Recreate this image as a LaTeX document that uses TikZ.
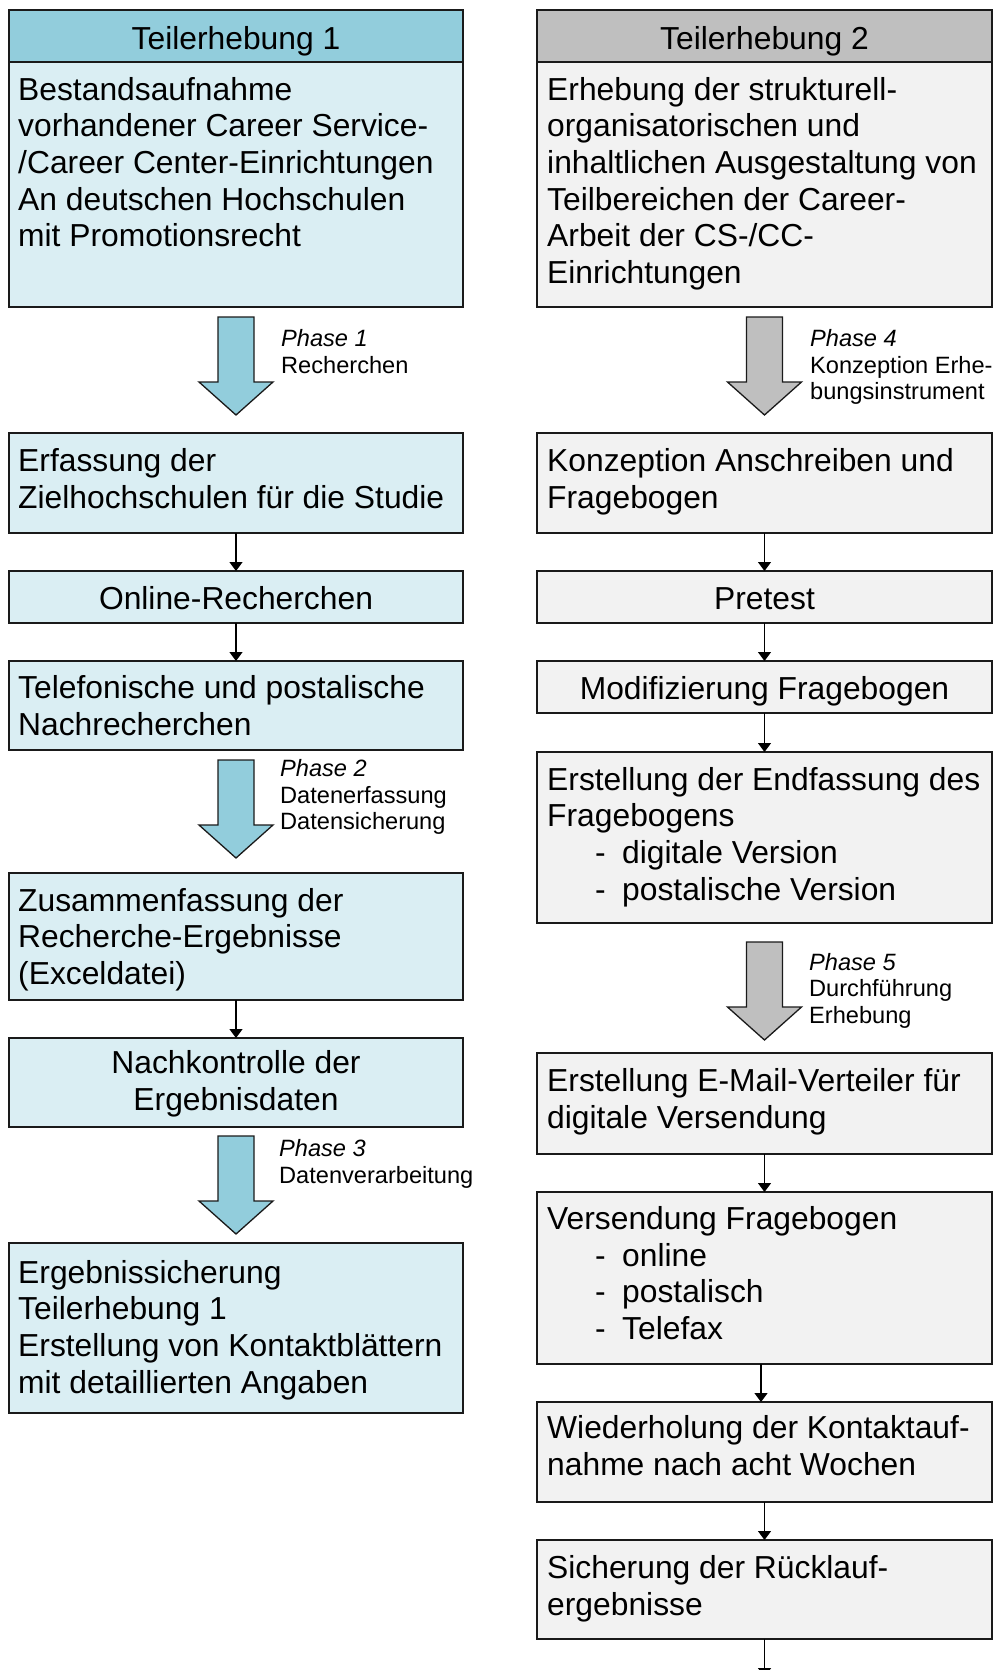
\documentclass[tikz,border=0pt]{standalone}
\usepackage{fontspec}
\setmainfont{Liberation Sans}
\usetikzlibrary{arrows.meta}
\definecolor{blueH}{HTML}{92CDDC}
\definecolor{blueB}{HTML}{DAEEF3}
\definecolor{grayH}{HTML}{BFBFBF}
\definecolor{grayB}{HTML}{F2F2F2}
\definecolor{edgec}{HTML}{1A1A1A}
\newcommand{\txtmain}{\fontsize{31.8}{36.7}\selectfont}
\newcommand{\txtphase}{\fontsize{23.6}{26.5}\selectfont}
\newcommand{\bul}{\makebox[75pt][l]{\hspace*{48pt}-}}
\tikzset{
  boxbase/.style={draw=edgec, line width=1.5pt, inner sep=0pt, outer sep=0pt, anchor=north west},
  boxL/.style={boxbase, fill=blueB, minimum width=454pt, minimum height=#1},
  boxR/.style={boxbase, fill=grayB, minimum width=455pt, minimum height=#1},
  txtl/.style={inner sep=0pt, anchor=base west, font=\txtmain},
  txtc/.style={inner sep=0pt, anchor=base, font=\txtmain},
  ptxt/.style={inner sep=0pt, anchor=base west, font=\txtphase},
  conn/.style={draw=black, line width=1.3pt, -{Triangle[width=13pt,length=9pt]}},
  pics/bigarrow/.style={code={
    \draw[line width=1.3pt, draw=edgec, fill=#1]
      (-18,0) -- (18,0) -- (18,65) -- (37,65) -- (0,98) -- (-37,65) -- (-18,65) -- cycle;}}
}
\begin{document}
\begin{tikzpicture}[x=1pt,y=-1pt]
\useasboundingbox (0,0) rectangle (995,1670);
\clip (0,0) rectangle (995,1670);

% ---------------- left column ----------------
\node[boxL=52pt, fill=blueH] (hL1) at (9,10) {};
\node[boxL=245pt] (bL1) at (9,62) {};
\node[boxL=100pt] (bL2) at (9,433) {};
\node[boxL=52pt]  (bL3) at (9,571) {};
\node[boxL=89pt]  (bL4) at (9,661) {};
\node[boxL=127pt] (bL5) at (9,873) {};
\node[boxL=89pt]  (bL6) at (9,1038) {};
\node[boxL=170pt] (bL7) at (9,1243) {};

\node[txtc] (thL1) at (236,49) {Teilerhebung 1};
\node[txtl] (tL1) at (18,100) {\begin{tabular}[t]{@{}l@{}}Bestandsaufnahme\\vorhandener Career Service-\\/Career Center-Einrichtungen\\An deutschen Hochschulen\\mit Promotionsrecht\end{tabular}};
\node[txtl] (tL2) at (18,471.7) {\begin{tabular}[t]{@{}l@{}}Erfassung der\\Zielhochschulen für die Studie\end{tabular}};
\node[txtc] (tL3) at (236,609.3) {Online-Recherchen};
\node[txtl] (tL4) at (18,698.3) {\begin{tabular}[t]{@{}l@{}}Telefonische und postalische\\Nachrecherchen\end{tabular}};
\node[txtl] (tL5) at (18,911) {\begin{tabular}[t]{@{}l@{}}Zusammenfassung der\\Recherche-Ergebnisse\\(Exceldatei)\end{tabular}};
\node[txtc] (tL6) at (236,1073.3) {\begin{tabular}[t]{@{}c@{}}Nachkontrolle der\\Ergebnisdaten\end{tabular}};
\node[txtl] (tL7) at (18,1283) {\begin{tabular}[t]{@{}l@{}}Ergebnissicherung\\Teilerhebung 1\\Erstellung von Kontaktblättern\\mit detaillierten Angaben\end{tabular}};

\draw[conn] (bL2.south) -- (bL3.north);
\draw[conn] (bL3.south) -- (bL4.north);
\draw[conn] (bL5.south) -- (bL6.north);

\pic at ([yshift=-10pt]bL1.south) {bigarrow=blueH};
\pic at ([yshift=-10pt]bL4.south) {bigarrow=blueH};
\pic at ([yshift=-9pt]bL6.south) {bigarrow=blueH};

\node[ptxt] (ph1) at (281,346.7) {\begin{tabular}[t]{@{}l@{}}\textit{Phase 1}\\Recherchen\end{tabular}};
\node[ptxt] (ph2) at (280,776.7) {\begin{tabular}[t]{@{}l@{}}\textit{Phase 2}\\Datenerfassung\\Datensicherung\end{tabular}};
\node[ptxt] (ph3) at (279,1156.7) {\begin{tabular}[t]{@{}l@{}}\textit{Phase 3}\\Datenverarbeitung\end{tabular}};

% ---------------- right column ----------------
\node[boxR=52pt, fill=grayH] (hR1) at (537,10) {};
\node[boxR=245pt] (bR1) at (537,62) {};
\node[boxR=100pt] (bR2) at (537,433) {};
\node[boxR=52pt]  (bR3) at (537,571) {};
\node[boxR=52pt]  (bR4) at (537,661) {};
\node[boxR=171pt] (bR5) at (537,752) {};
\node[boxR=101pt] (bR6) at (537,1053) {};
\node[boxR=172pt] (bR7) at (537,1192) {};
\node[boxR=100pt] (bR8) at (537,1402) {};
\node[boxR=99pt]  (bR9) at (537,1540) {};
\coordinate (endR) at (764.5,1677);

\node[txtc] (thR1) at (764.5,49) {Teilerhebung 2};
\node[txtl] (tR1) at (547,100) {\begin{tabular}[t]{@{}l@{}}Erhebung der strukturell-\\organisatorischen und\\inhaltlichen Ausgestaltung von\\Teilbereichen der Career-\\Arbeit der CS-/CC-\\Einrichtungen\end{tabular}};
\node[txtl] (tR2) at (547,471.7) {\begin{tabular}[t]{@{}l@{}}Konzeption Anschreiben und\\Fragebogen\end{tabular}};
\node[txtc] (tR3) at (764.5,609.3) {Pretest};
\node[txtc] (tR4) at (764.5,699.3) {Modifizierung Fragebogen};
\node[txtl] (tR5) at (547,790) {\begin{tabular}[t]{@{}l@{}}Erstellung der Endfassung des\\Fragebogens\\\bul digitale Version\\\bul postalische Version\end{tabular}};
\node[txtl] (tR6) at (547,1091.7) {\begin{tabular}[t]{@{}l@{}}Erstellung E-Mail-Verteiler für\\digitale Versendung\end{tabular}};
\node[txtl] (tR7) at (547,1229.3) {\begin{tabular}[t]{@{}l@{}}Versendung Fragebogen\\\bul online\\\bul postalisch\\\bul Telefax\end{tabular}};
\node[txtl] (tR8) at (547,1438.3) {\begin{tabular}[t]{@{}l@{}}Wiederholung der Kontaktauf-\\nahme nach acht Wochen\end{tabular}};
\node[txtl] (tR9) at (547,1578.3) {\begin{tabular}[t]{@{}l@{}}Sicherung der Rücklauf-\\ergebnisse\end{tabular}};

\draw[conn] (bR2.south) -- (bR3.north);
\draw[conn] (bR3.south) -- (bR4.north);
\draw[conn] (bR4.south) -- (bR5.north);
\draw[conn] (bR6.south) -- (bR7.north);
\draw[conn] ([xshift=-3.5pt]bR7.south) -- ([xshift=-3.5pt]bR8.north);
\draw[conn] (bR8.south) -- (bR9.north);
\draw[conn] (bR9.south) -- (endR);

\pic at ([yshift=-10pt]bR1.south) {bigarrow=grayH};
\pic at ([yshift=-19pt]bR5.south) {bigarrow=grayH};

\node[ptxt] (ph4) at (810,346.7) {\begin{tabular}[t]{@{}l@{}}\textit{Phase 4}\\Konzeption Erhe-\\bungsinstrument\end{tabular}};
\node[ptxt] (ph5) at (809,970) {\begin{tabular}[t]{@{}l@{}}\textit{Phase 5}\\Durchführung\\Erhebung\end{tabular}};
\end{tikzpicture}
\end{document}
